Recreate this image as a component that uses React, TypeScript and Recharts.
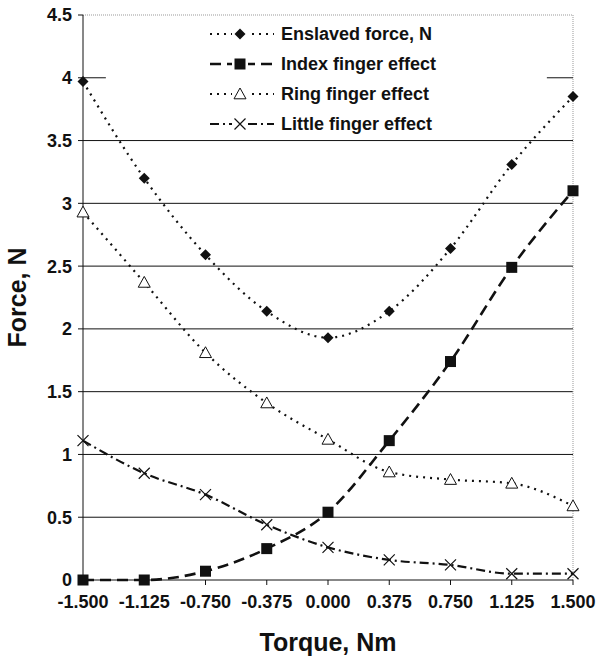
import { LineChart, Line, XAxis, YAxis, CartesianGrid, ReferenceLine } from 'recharts';

const torque = [-1.5, -1.125, -0.75, -0.375, 0, 0.375, 0.75, 1.125, 1.5];
const enslaved = [3.97, 3.2, 2.59, 2.14, 1.93, 2.14, 2.64, 3.31, 3.85];
const indexEffect = [0, 0, 0.07, 0.25, 0.54, 1.11, 1.74, 2.49, 3.1];
const ringEffect = [2.93, 2.37, 1.81, 1.41, 1.12, 0.86, 0.8, 0.77, 0.59];
const littleEffect = [1.11, 0.85, 0.68, 0.44, 0.26, 0.16, 0.12, 0.05, 0.05];

const xTicks = [-1.5, -1.125, -0.75, -0.375, 0, 0.375, 0.75, 1.125, 1.5];
const yTicks = [0, 0.5, 1, 1.5, 2, 2.5, 3, 3.5, 4, 4.5];
const gridValues = [0.5, 1, 1.5, 2, 2.5, 3, 3.5];

const data = torque.map((t, i) => ({
  x: t,
  enslaved: enslaved[i],
  index: indexEffect[i],
  ring: ringEffect[i],
  little: littleEffect[i],
}));

const FONT = '"Liberation Sans", Arial, sans-serif';
const INK = '#111';

type Marker = 'diamond' | 'square' | 'triangle' | 'cross';

function drawMarker(kind: Marker, cx: number, cy: number, key?: string | number) {
  if (kind === 'diamond') {
    const r = 5.5;
    return <path key={key} d={`M${cx},${cy - r}L${cx + r},${cy}L${cx},${cy + r}L${cx - r},${cy}Z`} fill={INK} />;
  }
  if (kind === 'square') {
    return <rect key={key} x={cx - 5.5} y={cy - 5.5} width={11} height={11} fill={INK} />;
  }
  if (kind === 'triangle') {
    const r = 6;
    return (
      <path key={key} d={`M${cx},${cy - r}L${cx + r},${cy + r * 0.8}L${cx - r},${cy + r * 0.8}Z`} fill="#fff" stroke={INK} strokeWidth={1} />
    );
  }
  const r = 5.5;
  return (
    <path key={key} d={`M${cx - r},${cy - r}L${cx + r},${cy + r}M${cx + r},${cy - r}L${cx - r},${cy + r}`} stroke={INK} strokeWidth={1.2} fill="none" />
  );
}

const dotFor = (kind: Marker) => (props: any) => drawMarker(kind, props.cx, props.cy, props.index);

const seriesStyle = [
  { key: 'enslaved', name: 'Enslaved force, N', dash: '2 5', width: 2.2, marker: 'diamond' as Marker },
  { key: 'index', name: 'Index finger effect', dash: '11 6', width: 2.6, marker: 'square' as Marker },
  { key: 'ring', name: 'Ring finger effect', dash: '2 5', width: 2.2, marker: 'triangle' as Marker },
  { key: 'little', name: 'Little finger effect', dash: '9 4 2 4', width: 2.2, marker: 'cross' as Marker },
];

function LegendBox() {
  return (
    <svg width={360} height={120}>
      {seriesStyle.map((s, i) => {
        const y = 17 + i * 30;
        return (
          <g key={s.key}>
            <line x1={2} y1={y} x2={66} y2={y} stroke={INK} strokeWidth={s.width} strokeDasharray={s.dash} />
            <rect x={24} y={y - 7} width={16} height={14} fill="#fff" />
            {drawMarker(s.marker, 32, y)}
            <text x={73} y={y + 6} fontFamily={FONT} fontWeight="bold" fontSize={18} fill={INK}>
              {s.name}
            </text>
          </g>
        );
      })}
    </svg>
  );
}

export default function App() {
  return (
    <div style={{ position: 'absolute', left: 0, top: 0, width: 602, height: 665, background: '#fff' }}>
      <LineChart width={602} height={665} data={data} margin={{ top: 15, right: 29, bottom: 22, left: 0 }}>
        <CartesianGrid horizontal vertical={false} horizontalValues={gridValues} stroke="#111" strokeWidth={1} />
        <ReferenceLine y={4.5} stroke="#999" strokeDasharray="1 1" />
        <ReferenceLine x={1.5} stroke="#999" strokeDasharray="1 1" />
        <ReferenceLine segment={[{ x: -1.5, y: 4 }, { x: -1.36, y: 4 }]} stroke="#111" />
        <ReferenceLine segment={[{ x: 1.34, y: 4 }, { x: 1.5, y: 4 }]} stroke="#111" />
        <XAxis
          type="number"
          dataKey="x"
          domain={[-1.5, 1.5]}
          ticks={xTicks}
          tickFormatter={(v: number) => v.toFixed(3)}
          height={63}
          tickSize={5}
          tickMargin={10}
          stroke={INK}
          tick={{ fontFamily: FONT, fontWeight: 'bold', fontSize: 18, fill: INK }}
          label={{ value: 'Torque, Nm', position: 'insideBottom', offset: -8, style: { fontFamily: FONT, fontWeight: 'bold', fontSize: 25, fill: INK } }}
        />
        <YAxis
          type="number"
          domain={[0, 4.5]}
          ticks={yTicks}
          width={83}
          tickSize={5}
          tickMargin={6}
          stroke={INK}
          tick={{ fontFamily: FONT, fontWeight: 'bold', fontSize: 18, fill: INK }}
          label={{ value: 'Force, N', angle: -90, position: 'insideLeft', offset: 17, style: { fontFamily: FONT, fontWeight: 'bold', fontSize: 25, fill: INK, textAnchor: 'middle' } }}
        />
        {seriesStyle.map(s => (
          <Line
            key={s.key}
            type="monotone"
            dataKey={s.key}
            name={s.name}
            stroke={INK}
            strokeWidth={s.width}
            strokeDasharray={s.dash}
            dot={dotFor(s.marker)}
            activeDot={false}
            isAnimationActive={false}
          />
        ))}
      </LineChart>
      <div style={{ position: 'absolute', left: 208, top: 17 }}>
        <LegendBox />
      </div>
    </div>
  );
}
